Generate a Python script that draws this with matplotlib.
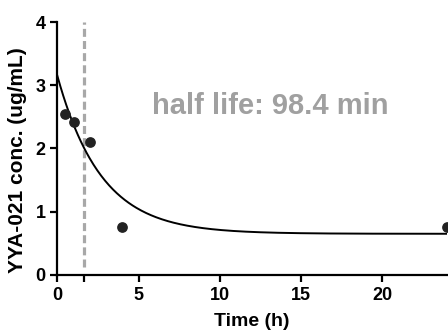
import numpy as np
import matplotlib
matplotlib.use("Agg")
import matplotlib.pyplot as plt

plt.rcParams.update({
    "font.family": ["Liberation Sans", "DejaVu Sans"],
    "font.weight": "bold",
    "axes.linewidth": 1.6,
})

# measured concentrations
time_h = [0.5, 1.0, 2.0, 4.0, 24.0]
conc = [2.55, 2.42, 2.10, 0.75, 0.76]

# one-phase decay fit parameters
fit_y0 = 3.15
fit_plateau = 0.65
fit_k = 0.371  # 1/h

half_life_min = 98.4
half_life_h = half_life_min / 60

fig = plt.figure(figsize=(4.48, 3.34), dpi=100)
ax = fig.add_axes([0.128, 0.177, 0.87, 0.757])

t = np.linspace(0, 24, 400)
ax.plot(t, fit_plateau + (fit_y0 - fit_plateau) * np.exp(-fit_k * t),
        color="black", lw=1.4, zorder=3)
ax.scatter(time_h, conc, s=45, color="#222222", zorder=4, clip_on=False)

ax.vlines(half_life_h, 0.12, 4.0, colors="#a8a8a8", linestyles=(0, (2.5, 1.3)),
          lw=2.3, zorder=2)

ax.text(13.1, 2.67, f"half life: {half_life_min} min", color="#a0a0a0",
        fontsize=21, fontweight="bold", ha="center", va="center")

ax.set_xlim(0, 24)
ax.set_ylim(0, 4)
ax.set_xticks([0, 5, 10, 15, 20])
ax.set_xticks([half_life_h], minor=True)
ax.set_yticks([0, 1, 2, 3, 4])
ax.tick_params(which="both", direction="out", length=5, width=1.6,
               labelsize=13, color="black")
for lab in ax.get_xticklabels() + ax.get_yticklabels():
    lab.set_fontweight("bold")
ax.spines["top"].set_visible(False)
ax.spines["right"].set_visible(False)

ax.set_xlabel("Time (h)", fontsize=14, fontweight="bold", labelpad=7)
ax.set_ylabel("YYA-021 conc. (ug/mL)", fontsize=15, fontweight="bold")
ax.yaxis.set_label_coords(-0.078, 0.455)

fig.savefig("out.png", dpi=100)
